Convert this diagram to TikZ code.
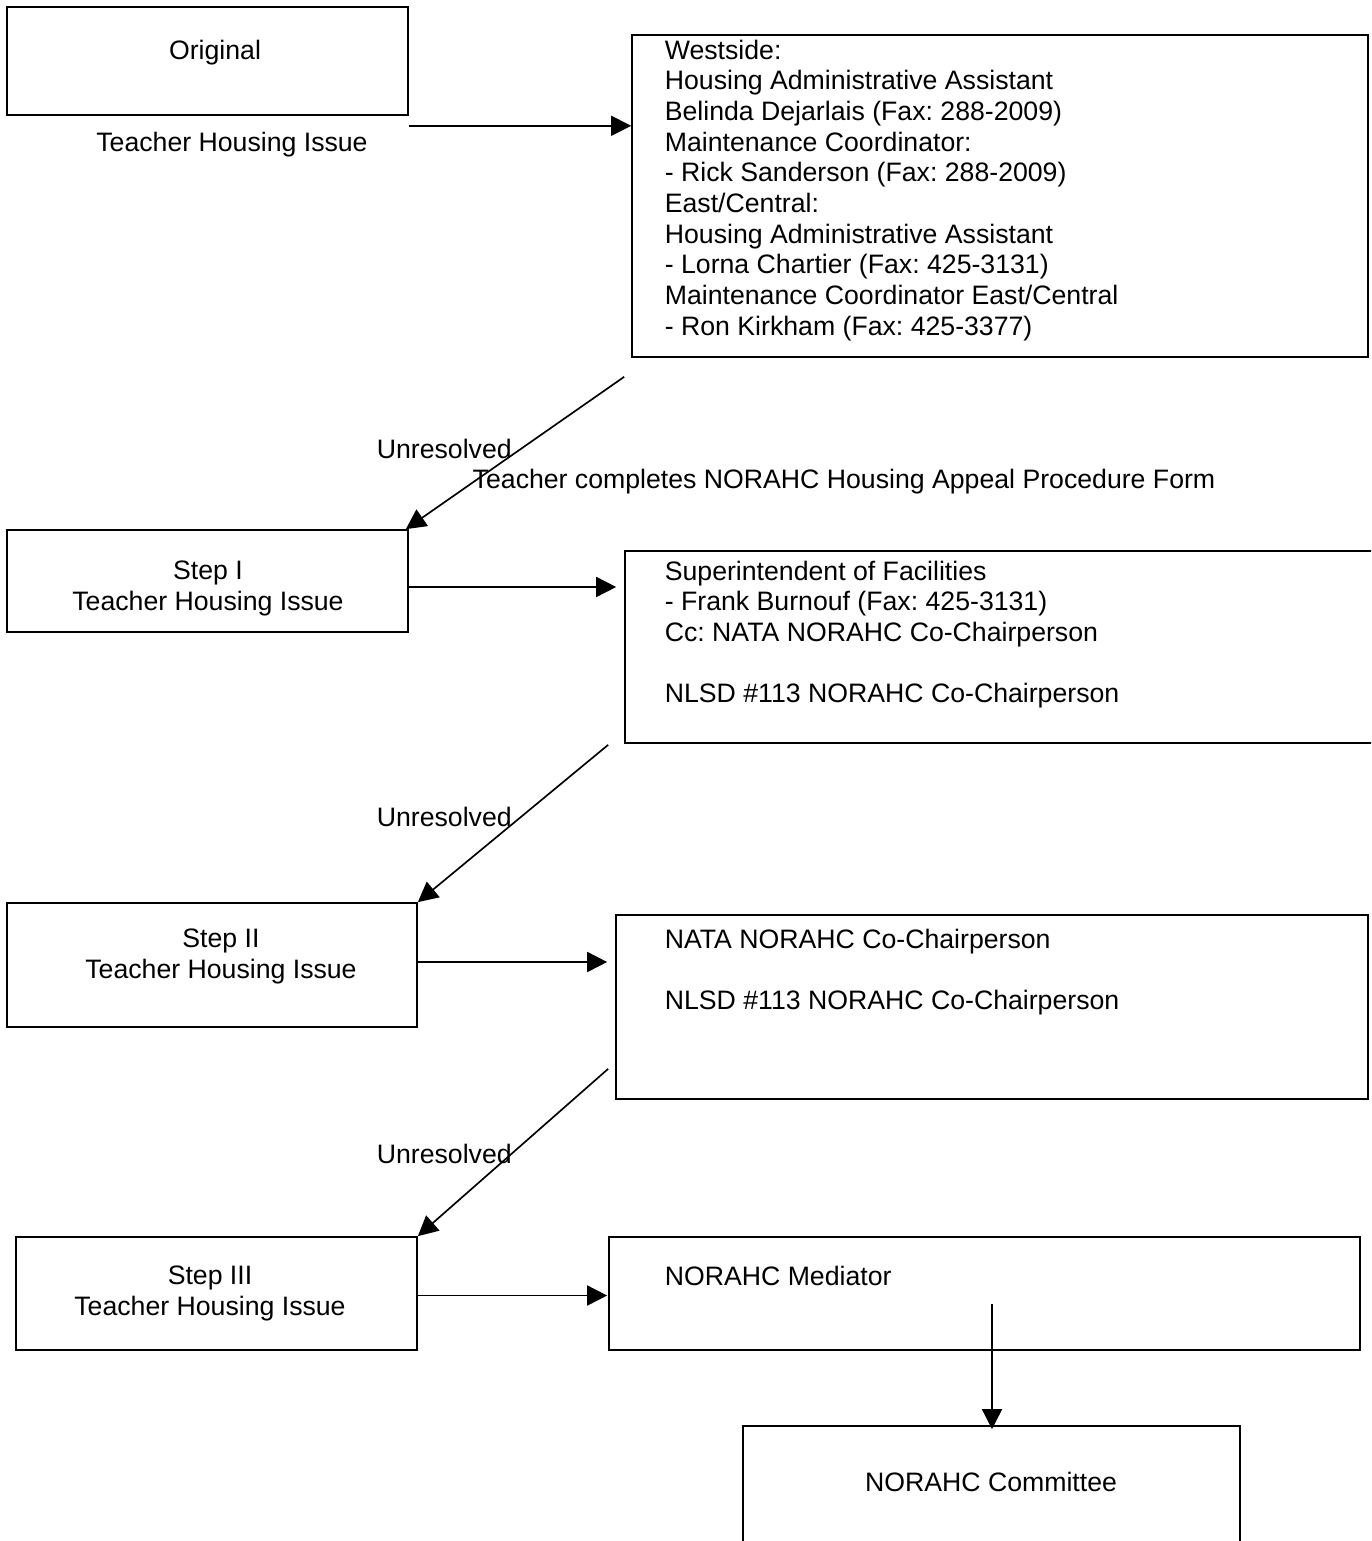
\documentclass[tikz,border=0pt]{standalone}
\usepackage{fontspec}
\setmainfont{Liberation Sans}
\usetikzlibrary{arrows.meta,calc,fit}
\frenchspacing

\begin{document}
\begin{tikzpicture}
	[x=0.45pt, y=-0.45pt, line width=0.75pt,
	box/.style={draw, inner sep=0pt},
	txt/.style={inner sep=0pt, font=\fontsize{12}{13.8}\selectfont},
	arr/.style={-{Triangle[length=9pt,width=9pt]}}]
	\clip (0,0) rectangle (1371,1541);
	\fill[white] (0,0) rectangle (1371,1541);
	% left column
	\node[box, fit={(7,7) (408,115)}] (orig) {};
	\node[box, fit={(7,530) (408,632)}] (step1) {};
	\node[box, fit={(7,903) (417,1027)}] (step2) {};
	\node[box, fit={(16,1237) (417,1350)}] (step3) {};
	% right column
	\node[box, fit={(632,35) (1368,357)}] (west) {};
	\node[box, fit={(625,551) (1385,743)}] (super) {};
	\node[box, fit={(616,915) (1368,1099)}] (nata) {};
	\node[box, fit={(609,1237) (1360,1350)}] (med) {};
	\node[box, fit={(743,1426) (1240,1560)}] (comm) {};
	% texts
	\node[txt, anchor=north] (origtxt) at (215,39) {Original};
	\node[txt, anchor=north] (issue) at (232,131) {Teacher Housing Issue};
	\node[txt, anchor=north, align=center] (s1txt) at (208,560) {Step I\\Teacher Housing Issue};
	\node[txt, anchor=north, align=center] (s2txt) at (221,928) {Step II\\Teacher Housing Issue};
	\node[txt, anchor=north, align=center] (s3txt) at (210,1265) {Step III\\Teacher Housing Issue};
	\node[txt, anchor=north west, align=left] (westtxt) at (664,39) {Westside:\\
		Housing Administrative Assistant\\
		Belinda Dejarlais (Fax: 288-2009)\\
		Maintenance Coordinator:\\
		- Rick Sanderson (Fax: 288-2009)\\
		East/Central:\\
		Housing Administrative Assistant\\
		- Lorna Chartier (Fax: 425-3131)\\
		Maintenance Coordinator East/Central\\
		- Ron Kirkham (Fax: 425-3377)};
	\node[txt, anchor=north west, align=left] (supertxt) at (664,560) {Superintendent of Facilities\\
		- Frank Burnouf (Fax: 425-3131)\\
		Cc: NATA NORAHC Co-Chairperson\\[13.8pt]
		NLSD \#113 NORAHC Co-Chairperson};
	\node[txt, anchor=north west, align=left] (natatxt) at (664,928) {NATA NORAHC Co-Chairperson\\[13.8pt]
		NLSD \#113 NORAHC Co-Chairperson};
	\node[txt, anchor=north west] (medtxt) at (664,1265) {NORAHC Mediator};
	\node[txt, anchor=north] (commtxt) at (991,1471) {NORAHC Committee};
	\node[txt, anchor=north west] (u1) at (376,438) {Unresolved};
	\node[txt, anchor=north west] (u2) at (376,806) {Unresolved};
	\node[txt, anchor=north west] (u3) at (376,1143) {Unresolved};
	\node[txt, anchor=north] (form) at (844,468) {Teacher completes NORAHC Housing Appeal Procedure Form};
	% across
	\coordinate (a0) at ($(orig.south east)+(0,10)$);
	\coordinate (a1) at ($(step1.east)+(0,6)$);
	\coordinate (a2) at ($(step2.east)+(0,-3)$);
	\coordinate (a3) at ($(step3.east)+(0,2)$);
	\draw[arr] (a0) -- (west.west |- a0);
	\draw[arr] (a1) -- ($(super.west |- a1)+(-8,0)$);
	\draw[arr] (a2) -- ($(nata.west |- a2)+(-8,0)$);
	\draw[arr] (a3) -- ($(med.west |- a3)+(-1,0)$);
	% down
	\draw[arr] ($(west.south west)+(-7,19)$) -- ($(step1.north east)+(-3,0)$);
	\draw[arr] ($(super.south west)+(-16,1)$) -- (step2.north east);
	\draw[arr] ($(nata.south west)+(-7,-31)$) -- (step3.north east);
	\draw[arr] ($(comm.north |- med.south)+(0.5,-47)$) -- ($(comm.north)+(0.5,4)$);
\end{tikzpicture}
\end{document}
